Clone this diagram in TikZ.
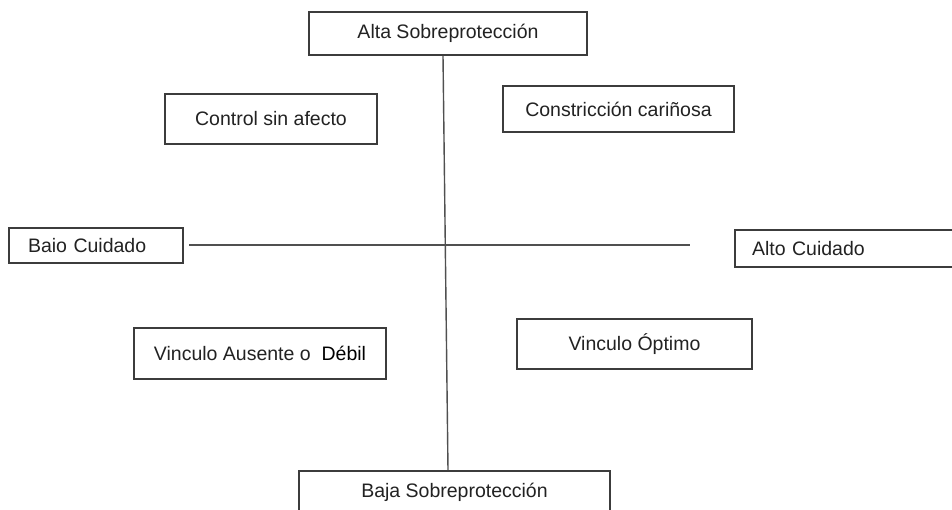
\documentclass[tikz,border=0pt]{standalone}
\usepackage{fontspec}
\setmainfont{Liberation Sans}
\usetikzlibrary{calc}
\definecolor{boxline}{HTML}{3C3C3C}
\definecolor{axisline}{HTML}{505050}
\definecolor{txt}{HTML}{222222}
\begin{document}
\begin{tikzpicture}[x=1pt,y=-1pt,
  qbox/.style={draw=boxline, line width=1.8pt, fill=white, rectangle, inner sep=0pt,
    text=txt, font=\fontsize{19.5}{23}\selectfont},
  axis/.style={draw=axisline, line width=1.4pt}]
\useasboundingbox (0,0) rectangle (952,510);
\node[qbox, minimum width=278, minimum height=43] (alta) at (448,33.5) {Alta Sobreprotección};
\node[qbox, minimum width=212, minimum height=50] (ctrl) at (271,119) {Control sin afecto};
\node[qbox, minimum width=231, minimum height=46] (cons) at (618.5,109) {Constricción cariñosa};
\node[qbox, minimum width=174, minimum height=35, text width=136, inner xsep=19, align=left] (baio) at (96,245.5) {Baio Cuidado};
\node[qbox, minimum width=225, minimum height=37, text width=191, inner xsep=17, align=left] (altoc) at (847.5,248.5) {Alto Cuidado};
\node[qbox, minimum width=252, minimum height=51] (vaus) at (260,353.5) {Vinculo Ausente o\ \ \textcolor{black}{Débil}};
\node[qbox, minimum width=235, minimum height=50] (vopt) at (634.5,344) {Vinculo Óptimo};
\node[qbox, minimum width=311, minimum height=42] (baja) at (454.5,492) {Baja Sobreprotección};
\coordinate (hl) at (189,245);
\coordinate (hr) at (690,245);
\draw[axis] ($(alta.south)+(-5,0)$) -- ($(baja.north)+(-6.5,0)$);
\draw[axis] (hl) -- (hr);
\end{tikzpicture}
\end{document}
